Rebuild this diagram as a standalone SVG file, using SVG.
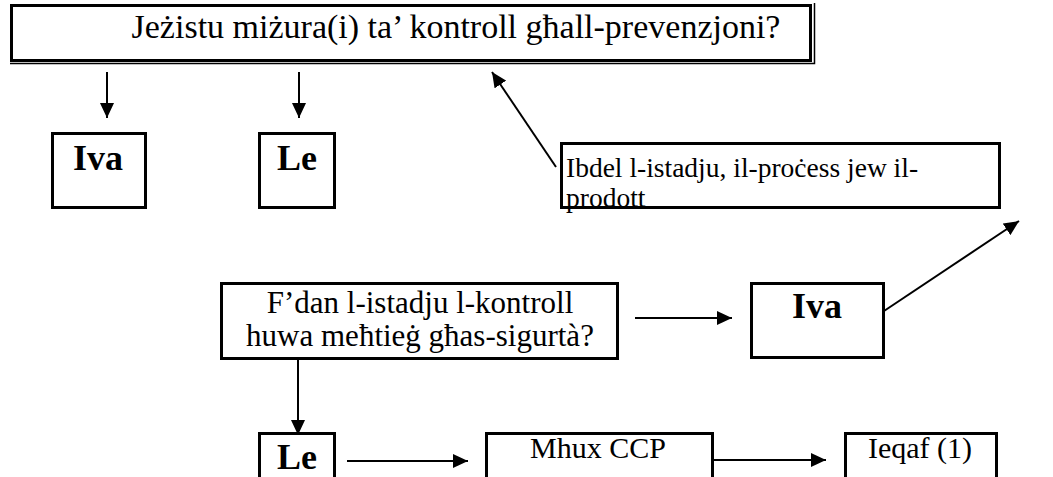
<svg xmlns="http://www.w3.org/2000/svg" width="1053" height="477" viewBox="0 0 1053 477">
<defs>
<style>
.box{fill:#fff;stroke:#000;stroke-width:3}
.t{font-family:"Liberation Serif","Times New Roman",serif;fill:#000}
.b{font-weight:bold}
.c{stroke:#000;stroke-width:2;fill:none}
</style>
<marker id="ah" viewBox="0 0 15 14" refX="15" refY="7" markerWidth="15" markerHeight="14" markerUnits="userSpaceOnUse" orient="auto">
<path d="M0,0 L15,7 L0,14 z" fill="#000"/>
</marker>
</defs>
<rect width="1053" height="477" fill="#fff"/>
<g id="connectors">
<line class="c" x1="107" y1="72" x2="107" y2="118" marker-end="url(#ah)"/>
<line class="c" x1="299" y1="72" x2="299" y2="118" marker-end="url(#ah)"/>
<line class="c" x1="556" y1="167" x2="492" y2="72" marker-end="url(#ah)"/>
<line class="c" x1="635" y1="318" x2="732" y2="318" marker-end="url(#ah)"/>
<line class="c" x1="875" y1="317" x2="1019" y2="221" marker-end="url(#ah)"/>
<line class="c" x1="298" y1="360" x2="298" y2="435" marker-end="url(#ah)"/>
<line class="c" x1="347" y1="461" x2="468" y2="461" marker-end="url(#ah)"/>
<line class="c" x1="707" y1="460" x2="826" y2="460" marker-end="url(#ah)"/>
</g>
<g id="n-question">
<rect x="11.5" y="5.5" width="799" height="55" fill="#fff" stroke="#000" stroke-width="3"/>
<polyline points="10,63.5 814.5,63.5 814.5,3" fill="none" stroke="#000" stroke-width="1.5"/>
<text class="t" x="456" y="38" font-size="34" text-anchor="middle">Jeżistu miżura(i) ta’ kontroll għall-prevenzjoni?</text>
</g>
<g id="n-iva1">
<rect class="box" x="52.5" y="133.5" width="93" height="74"/>
<text class="t b" x="98" y="170" font-size="36" text-anchor="middle">Iva</text>
</g>
<g id="n-le1">
<rect class="box" x="259.5" y="133.5" width="75" height="74"/>
<text class="t b" x="297" y="170" font-size="36" text-anchor="middle">Le</text>
</g>
<g id="n-change">
<rect class="box" x="561.5" y="143.5" width="438" height="64"/>
<text class="t" x="566" y="177" font-size="27.5">Ibdel l-istadju, il-proċess jew il-</text>
<text class="t" x="566" y="207" font-size="27.5">prodott</text>
</g>
<g id="n-decide">
<rect class="box" x="221.5" y="283.5" width="396" height="75"/>
<text class="t" x="420" y="313" font-size="31" text-anchor="middle">F’dan l-istadju l-kontroll</text>
<text class="t" x="420" y="346" font-size="31" text-anchor="middle">huwa meħtieġ għas-sigurtà?</text>
</g>
<g id="n-iva2">
<rect class="box" x="751.5" y="283.5" width="132" height="74"/>
<text class="t b" x="817" y="318" font-size="36" text-anchor="middle">Iva</text>
</g>
<g id="n-le2">
<rect class="box" x="259.5" y="433.5" width="75" height="60"/>
<text class="t b" x="297" y="469" font-size="36" text-anchor="middle">Le</text>
</g>
<g id="n-notccp">
<rect class="box" x="486.5" y="433.5" width="226" height="60"/>
<text class="t" x="598" y="458" font-size="30" text-anchor="middle">Mhux CCP</text>
</g>
<g id="n-stop">
<rect class="box" x="845.5" y="433.5" width="151" height="60"/>
<text class="t" x="920" y="458" font-size="30" text-anchor="middle">Ieqaf (1)</text>
</g>
</svg>
